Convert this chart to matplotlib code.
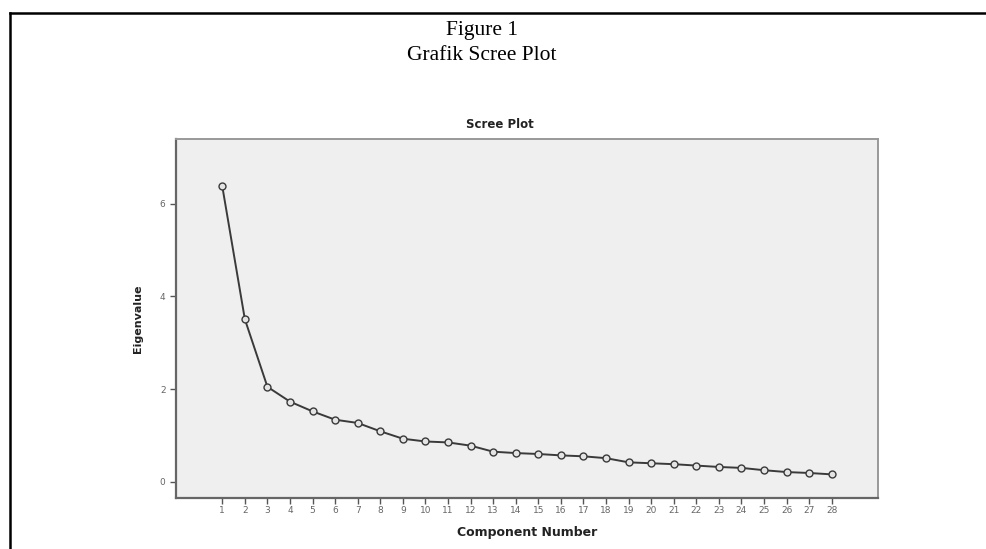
import numpy as np
import matplotlib
matplotlib.use("Agg")
import matplotlib.pyplot as plt
from matplotlib.lines import Line2D

# eigenvalues
components = list(range(1, 29))
eigenvalues = [6.38, 3.51, 2.05, 1.73, 1.52, 1.34, 1.27, 1.09, 0.93, 0.87,
               0.85, 0.78, 0.65, 0.62, 0.60, 0.57, 0.55, 0.51, 0.42, 0.40,
               0.38, 0.35, 0.32, 0.30, 0.25, 0.21, 0.19, 0.16]
y_ticks = [0, 2, 4, 6]

fig = plt.figure(figsize=(9.87, 5.49), dpi=100)
fig.patch.set_facecolor("white")

# outer frame of the document figure (left and top edges only)
fig.add_artist(Line2D([10/987, 10/987], [0, 1 - 13/549], transform=fig.transFigure,
                      color="black", lw=1.8))
fig.add_artist(Line2D([10/987, 1], [1 - 13/549, 1 - 13/549], transform=fig.transFigure,
                      color="black", lw=1.8))

fig.text(482/987, 1 - 30/549, "Figure 1", ha="center", va="center",
         family="Liberation Serif", fontsize=15.5)
fig.text(482/987, 1 - 55/549, "Grafik Scree Plot", ha="center", va="center",
         family="Liberation Serif", fontsize=15.5)

ax = fig.add_axes([176/987, 1 - 498/549, (878 - 176)/987, (498 - 139)/549])
ax.set_facecolor("#efefef")
ax.plot(components, eigenvalues, color="#3a3a3a", lw=1.4, marker="o",
        markersize=5, markerfacecolor="#e4e4e4", markeredgecolor="#3a3a3a",
        markeredgewidth=1.0)

ax.set_xlim(-1.05, 30.05)
ax.set_ylim(-0.35, 7.4)
ax.set_xticks(components)
ax.set_yticks(y_ticks)
ax.tick_params(axis="both", labelsize=6.5, labelcolor="#666666", color="#555555",
               length=4, width=1)
ax.tick_params(axis="x", pad=2)

for side in ["left", "bottom"]:
    ax.spines[side].set_color("#666666")
    ax.spines[side].set_linewidth(1.6)
for side in ["top", "right"]:
    ax.spines[side].set_color("#999999")
    ax.spines[side].set_linewidth(1.4)

ax.set_xlabel("Component Number", fontsize=9, fontweight="bold", color="#222222",
              labelpad=8)
ax.set_ylabel("Eigenvalue", fontsize=8, fontweight="bold", color="#222222",
              labelpad=12)
fig.text(500/987, 1 - 124/549, "Scree Plot", ha="center", va="center",
         fontsize=8.5, fontweight="bold", color="#222222")

fig.savefig("out.png", dpi=100)
